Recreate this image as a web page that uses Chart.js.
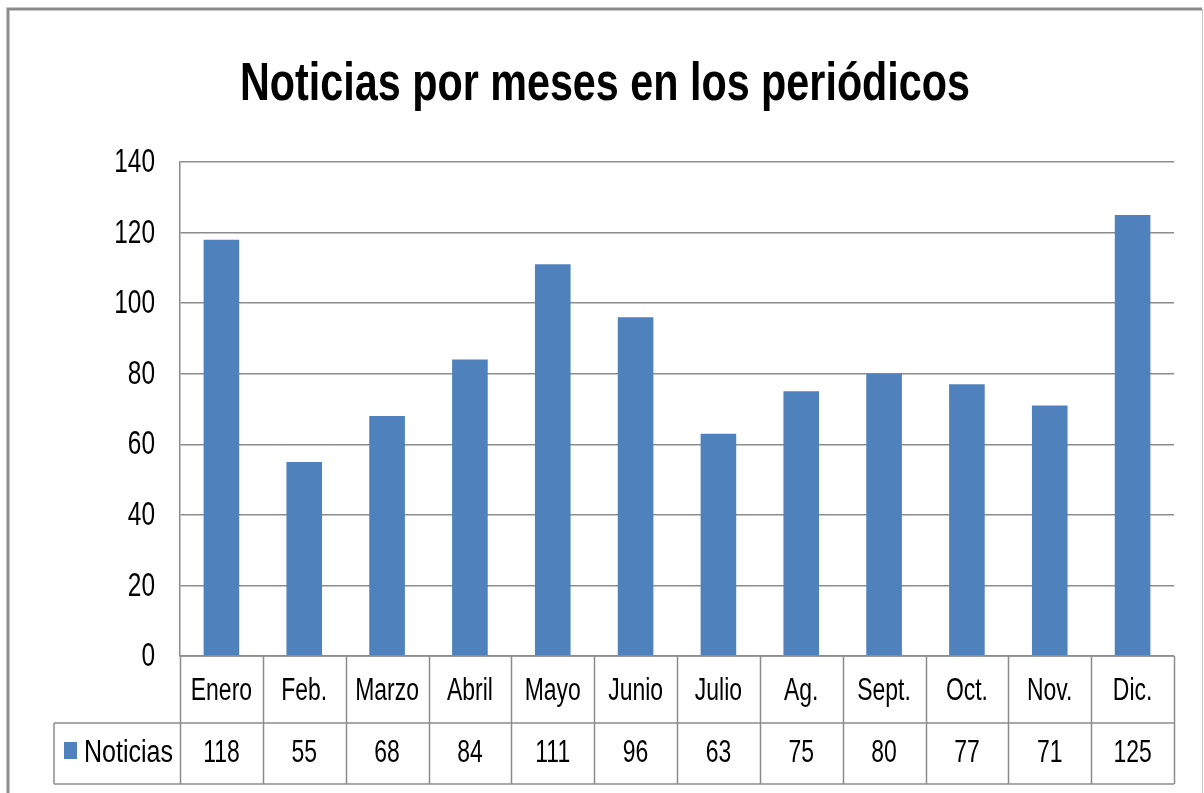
<!DOCTYPE html>
<html>
<head>
<meta charset="utf-8">
<script src="https://cdn.jsdelivr.net/npm/chart.js@4"></script>
<style>
    html, body { margin: 0; padding: 0; background: #fff; }
    #wrap { width: 1204px; height: 793px; position: relative; }
</style>
</head>
<body>
<div id="wrap"><canvas id="grafico"></canvas></div>
<script>
const titulo = 'Noticias por meses en los periódicos';
const meses = ['Enero', 'Feb.', 'Marzo', 'Abril', 'Mayo', 'Junio', 'Julio', 'Ag.', 'Sept.', 'Oct.', 'Nov.', 'Dic.'];
const noticias = [118, 55, 68, 84, 111, 96, 63, 75, 80, 77, 71, 125];
const nombreSerie = 'Noticias';
const marcasY = [0, 20, 40, 60, 80, 100, 120, 140];

const fuente = "'Liberation Sans', Arial, sans-serif";
const azul = '#4F81BD';
const gris = '#8c8c8c';
const estrecho = 0.74;

// texto comprimido a lo ancho, como en la imagen original
function textoEstrecho(ctx, txt, x, y, align, k) {
    ctx.save();
    ctx.translate(x, y);
    ctx.scale(k, 1);
    ctx.textAlign = align;
    ctx.fillText(txt, 0, 0);
    ctx.restore();
}

const tablaPlugin = {
    id: 'tabla',
    beforeDraw(chart) {
        const ctx = chart.ctx;
        ctx.save();
        ctx.fillStyle = '#fff';
        ctx.fillRect(0, 0, chart.width, chart.height);
        ctx.strokeStyle = gris;
        ctx.lineWidth = 3;
        ctx.beginPath();
        ctx.moveTo(8, chart.height);
        ctx.lineTo(8, 9);
        ctx.lineTo(1202, 9);
        ctx.stroke();
        ctx.strokeStyle = '#c8c8c8';
        ctx.lineWidth = 1;
        ctx.beginPath();
        ctx.moveTo(1202.5, 9);
        ctx.lineTo(1202.5, chart.height);
        ctx.stroke();
        ctx.restore();
    },
    afterDraw(chart) {
        const ctx = chart.ctx;
        const area = chart.chartArea;
        const x = chart.scales.x;
        const y = chart.scales.y;
        const paso = (area.right - area.left) / meses.length;
        const fila1 = area.bottom + 67;
        const fila2 = fila1 + 61;
        const izq = 54;

        ctx.save();
        // titulo
        ctx.fillStyle = '#000';
        ctx.font = 'bold 53px ' + fuente;
        ctx.textBaseline = 'alphabetic';
        const kt = 730 / ctx.measureText(titulo).width;
        textoEstrecho(ctx, titulo, 605, 100, 'center', kt);

        // etiquetas del eje Y
        ctx.font = '33px ' + fuente;
        ctx.textBaseline = 'middle';
        marcasY.forEach(v => {
            textoEstrecho(ctx, String(v), 155, y.getPixelForValue(v) + 1, 'right', estrecho);
        });

        // lineas de la tabla
        ctx.strokeStyle = gris;
        ctx.lineWidth = 1.5;
        ctx.beginPath();
        ctx.moveTo(area.left, area.bottom);
        ctx.lineTo(area.right, area.bottom);
        ctx.moveTo(izq, fila1);
        ctx.lineTo(area.right, fila1);
        ctx.moveTo(izq, fila2);
        ctx.lineTo(area.right, fila2);
        ctx.moveTo(izq, fila1);
        ctx.lineTo(izq, fila2);
        for (let i = 0; i <= meses.length; i++) {
            const px = Math.round(area.left + i * paso) + 0.5;
            ctx.moveTo(px, area.bottom);
            ctx.lineTo(px, fila2);
        }
        ctx.stroke();

        // textos de la tabla
        ctx.font = '31px ' + fuente;
        ctx.fillStyle = '#000';
        meses.forEach((m, i) => {
            const cx = x.getPixelForValue(i);
            textoEstrecho(ctx, m, cx, 691, 'center', estrecho);
            textoEstrecho(ctx, String(noticias[i]), cx, 753, 'center', estrecho);
        });

        // leyenda
        ctx.fillStyle = azul;
        ctx.fillRect(64, 742, 13, 17);
        ctx.fillStyle = '#000';
        ctx.font = '31px ' + fuente;
        const kl = 89 / ctx.measureText(nombreSerie).width;
        textoEstrecho(ctx, nombreSerie, 84, 753, 'left', kl);
        ctx.restore();
    }
};

const data = {
    labels: meses,
    datasets: [{
        label: nombreSerie,
        data: noticias,
        backgroundColor: azul,
        barPercentage: 0.43,
        categoryPercentage: 1
    }]
};

const config = {
    type: 'bar',
    data,
    options: {
        responsive: true,
        maintainAspectRatio: false,
        animation: false,
        layout: {
            padding: { top: 162, bottom: 137, left: 0, right: 30 }
        },
        plugins: {
            legend: { display: false },
            tooltip: { enabled: false },
            title: { display: false }
        },
        scales: {
            x: {
                display: false
            },
            y: {
                min: 0,
                max: 140,
                afterFit(scale) { scale.width = 180; },
                ticks: {
                    stepSize: 20,
                    display: false
                },
                grid: {
                    color: gris,
                    lineWidth: 1.5,
                    drawTicks: false
                },
                border: {
                    color: gris,
                    width: 1.5
                }
            }
        }
    },
    plugins: [tablaPlugin]
};

const ctx = document.getElementById('grafico').getContext('2d');
new Chart(ctx, config);
</script>
</body>
</html>
